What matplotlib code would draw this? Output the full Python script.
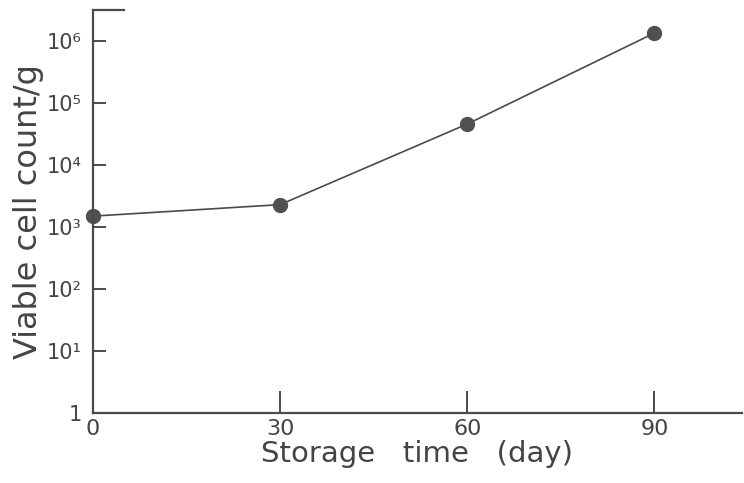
import numpy as np
import matplotlib.pyplot as plt

# Data
days = [0, 30, 60, 90]
counts = [1.5e3, 2.3e3, 4.6e4, 1.35e6]

ytick_values = [1, 1e1, 1e2, 1e3, 1e4, 1e5, 1e6]
ytick_labels = ['1', '10¹', '10²', '10³', '10⁴', '10⁵', '10⁶']
xtick_values = [0, 30, 60, 90]

ink = '#4a4a4a'

fig = plt.figure(figsize=(7.44, 4.83), dpi=100)
ax = fig.add_axes([0.125, 0.145, 0.872, 0.834])

ax.plot(days, counts, color=ink, linewidth=1.2, marker='o', markersize=10,
        markerfacecolor='#505050', markeredgecolor='#505050', clip_on=False)

ax.set_yscale('log')
ax.set_xlim(0, 104)
ax.set_ylim(1, 10**6.5)

ax.set_yticks(ytick_values)
ax.set_yticklabels(ytick_labels)
ax.minorticks_off()
ax.set_xticks(xtick_values)

ax.spines['right'].set_visible(False)
ax.spines['top'].set_bounds(0, 5)
for s in ['left', 'bottom', 'top']:
    ax.spines[s].set_color(ink)
    ax.spines[s].set_linewidth(1.6)

ax.tick_params(axis='y', direction='in', length=9, width=1.4, color=ink,
               labelsize=15, labelcolor='#444444', pad=8)
ax.tick_params(axis='x', direction='in', length=16, width=1.4, color=ink,
               labelsize=16, labelcolor='#444444', pad=4)

ax.set_xlabel('Storage   time   (day)', fontsize=21, color='#444444', labelpad=1)
ax.set_ylabel('Viable cell count/g', fontsize=23, color='#444444', labelpad=2)

fig.savefig('out.png', dpi=100)
